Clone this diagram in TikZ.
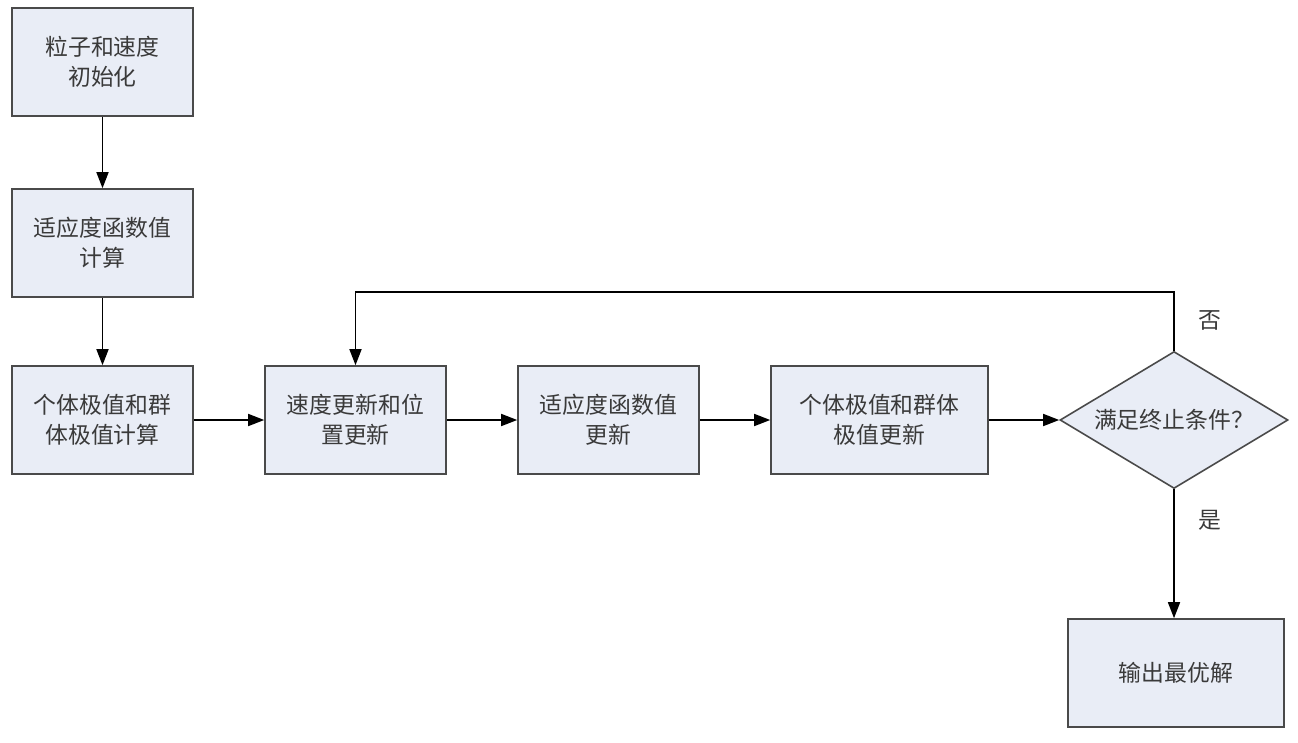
\documentclass[tikz,border=0pt]{standalone}
\usepackage{fontspec}
\newfontfamily\cjk{Noto Sans CJK SC}
\usetikzlibrary{arrows.meta,shapes.geometric}
\definecolor{boxfill}{HTML}{E9EDF6}
\definecolor{boxline}{HTML}{4A4A4A}
\definecolor{txtgray}{HTML}{3A3A3A}
\begin{document}
\begin{tikzpicture}[
	stepbox/.style={draw=boxline, fill=boxfill, line width=0.9pt, minimum width=3.62cm, minimum height=2.16cm, align=center, text=txtgray, font=\cjk\fontsize{13}{17}\selectfont},
	testbox/.style={draw=boxline, fill=boxfill, line width=0.9pt, diamond, aspect=1.66, minimum width=4.56cm, minimum height=2.74cm, inner sep=0pt, text=txtgray, font=\cjk\fontsize{13}{17}\selectfont},
	flow/.style={-{Triangle[length=0.32cm,width=0.24cm]}, line width=0.9pt, draw=black},
	tag/.style={text=txtgray, font=\cjk\fontsize{13}{17}\selectfont}
	]
	\useasboundingbox (0,0) rectangle (25.96,-14.84);
	
	% Left column: initialisation
	\node[stepbox] (init) at (2.05,-1.24) {粒子和速度\\初始化};
	\node[stepbox] (fit) at (2.05,-4.86) {适应度函数值\\计算};
	\node[stepbox] (best) at (2.05,-8.40) {个体极值和群\\体极值计算};
	
	% Main loop row
	\node[stepbox] (move) at (7.11,-8.40) {速度更新和位\\置更新};
	\node[stepbox] (refit) at (12.17,-8.40) {适应度函数值\\更新};
	\node[stepbox, minimum width=4.34cm] (rebest) at (17.59,-8.40) {个体极值和群体\\极值更新};
	\node[testbox] (stop) at (23.48,-8.40) {满足终止条件？};
	
	% Result
	\node[stepbox, minimum width=4.32cm] (out) at (23.52,-13.46) {输出最优解};
	
	% Connectors
	\draw[flow] (init) -- (fit);
	\draw[flow] (fit) -- (best);
	\draw[flow] (best) -- (move);
	\draw[flow] (move) -- (refit);
	\draw[flow] (refit) -- (rebest);
	\draw[flow] (rebest) -- (stop);
	\draw[flow] (stop.south) -- (stop.south |- out.north);
	\draw[flow] (stop.north) -- ++(0,1.18) -| (move.north);
	
	% Branch labels
	\node[tag] (no) at (24.20,-6.40) {否};
	\node[tag] (yes) at (24.20,-10.40) {是};
\end{tikzpicture}
\end{document}
